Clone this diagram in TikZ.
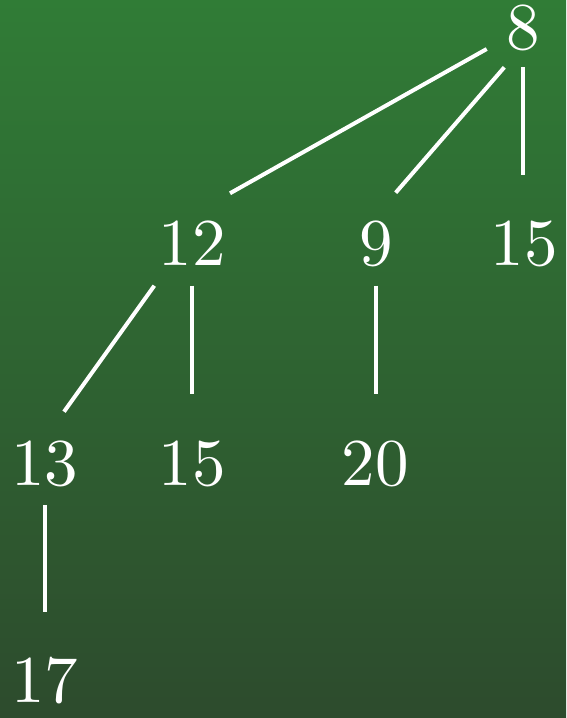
\documentclass[tikz,border=0pt]{standalone}
\usepackage{fontspec}
\setmainfont{lmroman10-regular.otf}
\usetikzlibrary{calc}
\definecolor{bgtop}{RGB}{48,124,54}
\definecolor{bgbot}{RGB}{45,75,45}
\tikzset{
  lbl/.style={text=white, inner sep=0pt, anchor=base, font=\fontsize{67}{80}\selectfont},
  edge/.style={draw=white, line width=4pt}
}
\begin{document}
\begin{tikzpicture}[x=1pt,y=-1pt]
\shade[top color=bgtop, bottom color=bgbot] (0pt,0pt) rectangle (566pt,-718pt);
\useasboundingbox (0pt,0pt) rectangle (566pt,-718pt);
\node[lbl] (n8) at (523,49) {8};
\node[lbl] (n12) at (192,265) {12};
\node[lbl] (n9) at (376,265) {9};
\node[lbl] (n15a) at (524,265) {15};
\node[lbl] (n13) at (45,485) {13};
\node[lbl] (n15b) at (192,485) {15};
\node[lbl] (n20) at (375,485) {20};
\node[lbl] (n17) at (45,702) {17};
\draw[edge] ($(n8.base)+(-36.3,0)$) -- ($(n12.base)+(38,-71.7)$);
\draw[edge] ($(n8.base)+(-18.7,18.3)$) -- ($(n9.base)+(19.7,-72.3)$);
\draw[edge] ($(n8.base)+(0,18)$) -- ($(n15a.base)+(-1,-90)$);
\draw[edge] ($(n12.base)+(-37.7,20.7)$) -- ($(n13.base)+(19,-73.3)$);
\draw[edge] ($(n12.base)+(0,20.7)$) -- ($(n15b.base)+(0,-91)$);
\draw[edge] ($(n9.base)+(0,20.7)$) -- ($(n20.base)+(1,-91)$);
\draw[edge] ($(n13.base)+(0,20)$) -- ($(n17.base)+(0,-90)$);
\end{tikzpicture}
\end{document}
